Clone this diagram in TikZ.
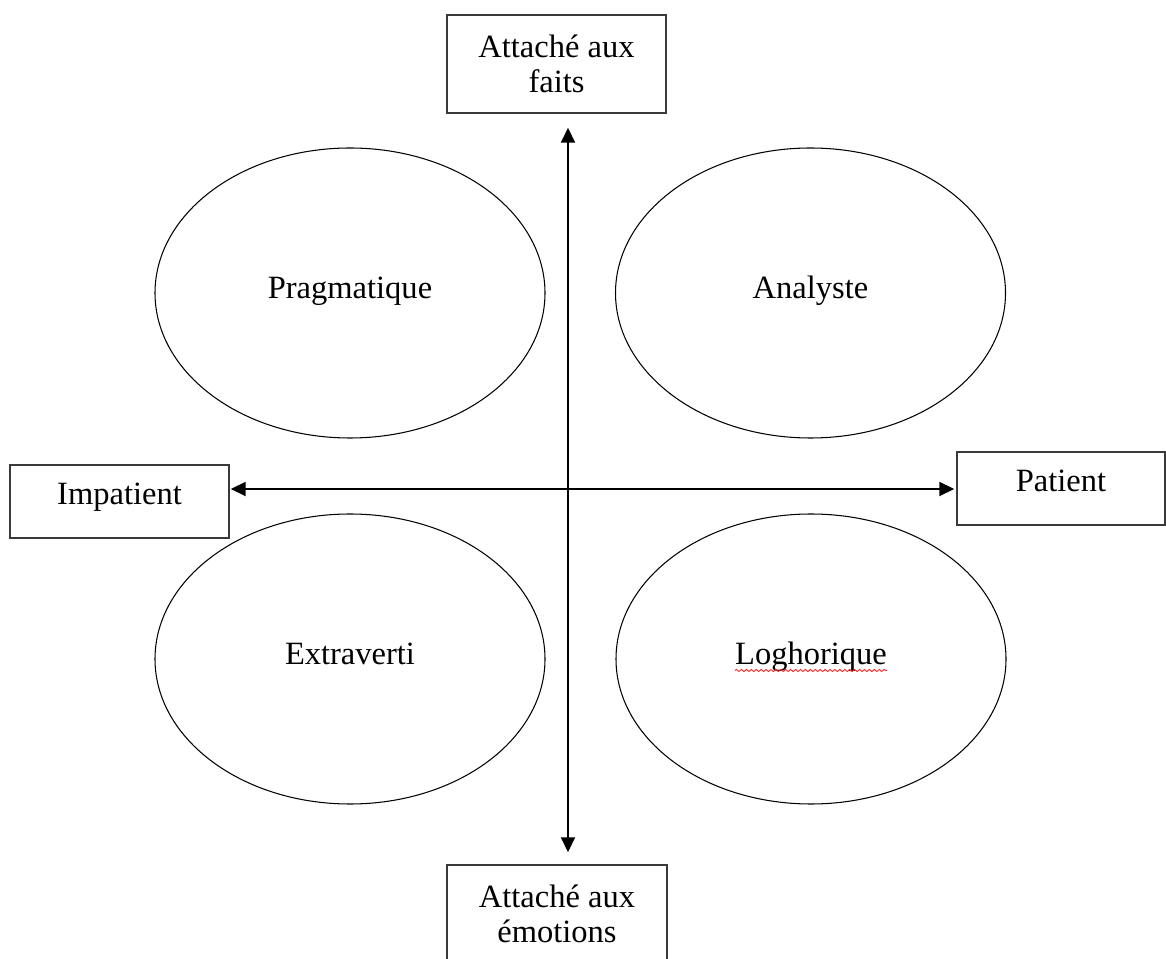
\documentclass[tikz,border=0pt]{standalone}
\usepackage{fontspec}
\setmainfont{Liberation Serif}
\usetikzlibrary{arrows.meta,positioning,shapes.geometric,decorations.pathmorphing}
\definecolor{ink}{HTML}{000000}
\definecolor{edge}{HTML}{3A3A3A}
\definecolor{spell}{HTML}{FF2020}

\begin{document}
\begin{tikzpicture}[font=\fontsize{18.5}{19.9}\selectfont,
  pole/.style={draw=edge,line width=0.9pt,minimum width=4.38cm,minimum height=1.96cm,align=center,inner sep=1pt},
  side/.style={draw=edge,line width=0.9pt,minimum height=1.46cm,text height=0.45cm,text depth=0.31cm,inner sep=1pt},
  quad/.style={ellipse,draw=ink,line width=0.6pt,minimum width=7.8cm,minimum height=5.8cm,
               text height=0.57cm,text depth=0.33cm,inner sep=0pt},
  axe/.style={{Triangle[length=8.5pt,width=8pt]}-{Triangle[length=8.5pt,width=8pt]},draw=ink,line width=1.1pt}]

  \useasboundingbox (0,0) rectangle (23.32,19.16);

  % poles
  \node[pole] (faits) at (11.13,17.88) {Attaché aux\\faits};
  \node[pole,minimum width=4.4cm] (emo) at (11.14,0.88) {Attaché aux\\émotions};
  \node[side,minimum width=4.38cm] (imp) at (2.39,9.13) {Impatient};
  \node[side,minimum width=4.16cm] (pat) at (21.22,9.39) {Patient};

  % styles
  \node[quad] (prag) at (7.0,13.3)   {Pragmatique};
  \node[quad] (ana)  at (16.21,13.3) {Analyste};
  \node[quad] (extr) at (7.0,5.98)   {Extraverti};
  \node[quad] (logh) at (16.22,5.98) {Loghorique};

  % axes
  \coordinate (o) at (11.36,9.38);
  \draw[axe,shorten <=0.28cm,shorten >=0.24cm] (faits.south-|o) -- (emo.north-|o);
  \draw[axe,shorten <=0.02cm,shorten >=0.04cm] (imp.east|-o) -- (pat.west|-o);

  \draw[spell,line width=0.5pt,decorate,decoration={snake,amplitude=0.6pt,segment length=2.8pt}]
    ([shift={(-1.52,-0.11)}]logh.base) -- ([shift={(1.52,-0.11)}]logh.base);
\end{tikzpicture}
\end{document}
